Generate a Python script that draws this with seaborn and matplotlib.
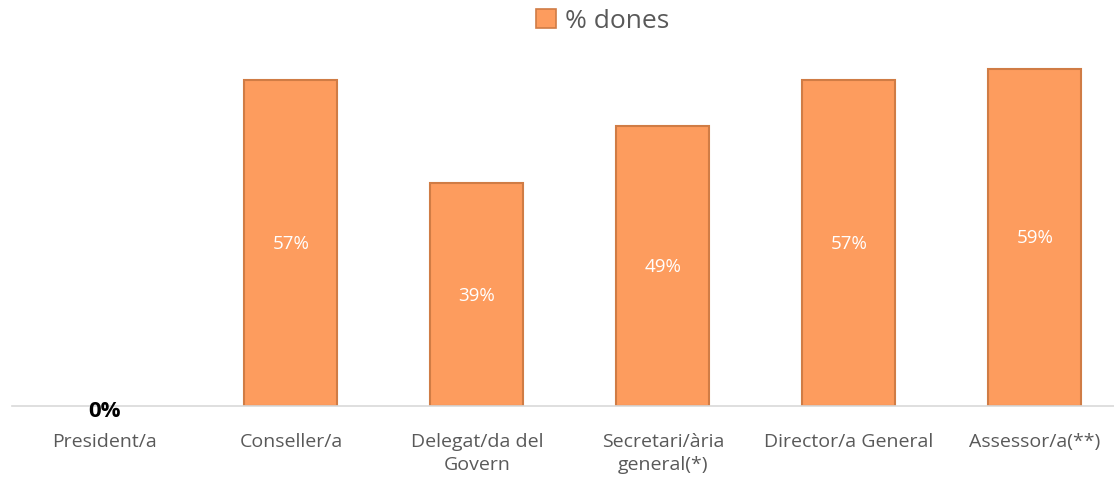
import matplotlib
matplotlib.use("Agg")
import matplotlib.pyplot as plt
import seaborn as sns
import pandas as pd
from matplotlib.patches import Patch

# Data
categories = ["President/a", "Conseller/a", "Delegat/da del\nGovern",
              "Secretari/ària\ngeneral(*)", "Director/a General", "Assessor/a(**)"]
pct_dones = [0, 57, 39, 49, 57, 59]

df = pd.DataFrame({"Categoria": categories, "Percent": pct_dones})

sns.set_style("white")
plt.rcParams["font.family"] = ["Open Sans", "DejaVu Sans"]

bar_color = "#FD9C5E"
edge_color = "#D07C45"

fig = plt.figure(figsize=(11.14, 4.81), dpi=100)
# slots are ~186 px wide, last one runs a bit past the right edge
ax = fig.add_axes([12 / 1114, 74 / 481, 1116 / 1114, 400 / 481])

sns.barplot(data=df, x="Categoria", y="Percent", color=bar_color, width=0.5,
            edgecolor=edge_color, linewidth=1.5, saturation=1, ax=ax)
for p in ax.patches:
    if p.get_height() == 0:
        p.set_visible(False)

ax.set_ylim(0, 70)
ax.set_xlim(-0.5, len(categories) - 0.5)
ax.set_xlabel("")
ax.set_ylabel("")
ax.set_yticks([])
for s in ["top", "right", "left"]:
    ax.spines[s].set_visible(False)
ax.spines["bottom"].set_color("#D9D9D9")
ax.spines["bottom"].set_linewidth(1.2)
ax.tick_params(axis="x", length=0, pad=19, labelsize=14, labelcolor="#595959")
for lbl in ax.get_xticklabels():
    lbl.set_linespacing(1.35)

# value labels
for i, v in enumerate(pct_dones):
    if v > 0:
        ax.text(i, v / 2, f"{v}%", ha="center", va="center", color="white", fontsize=13.5)
    else:
        ax.text(i, -0.8, f"{v}%", ha="center", va="center", color="black",
                fontsize=16, fontweight="bold")

handle = Patch(facecolor=bar_color, edgecolor=edge_color, linewidth=1.2)
fig.legend([handle], ["% dones"], loc="center", bbox_to_anchor=(0.541, 1 - 22 / 481),
           frameon=False, fontsize=19, handlelength=0.75, handleheight=0.75,
           handletextpad=0.35, labelcolor="#595959")

fig.savefig("out.png", dpi=100)
